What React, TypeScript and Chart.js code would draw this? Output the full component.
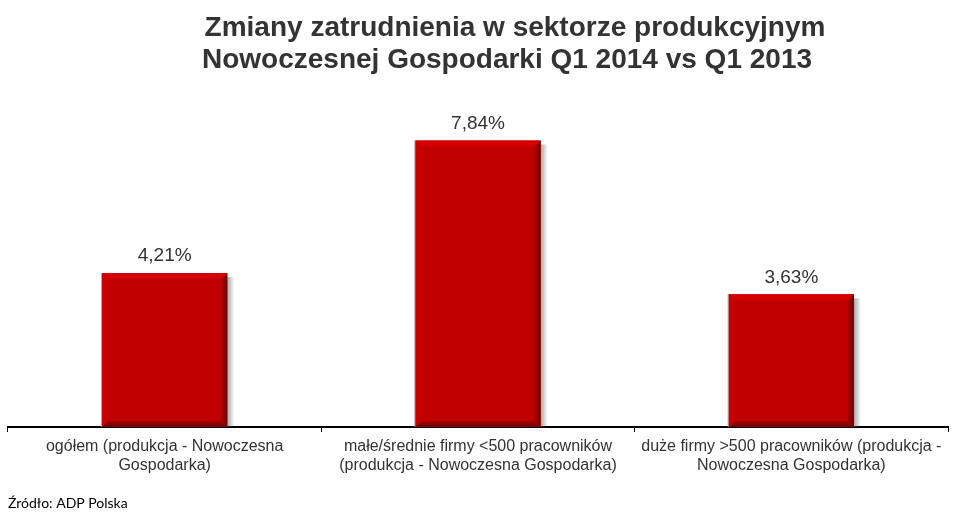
import React, { useEffect, useRef } from "react";
import { Chart, registerables } from "chart.js";

Chart.register(...registerables);

const titleLines = [
  "Zmiany zatrudnienia w sektorze produkcyjnym",
  "Nowoczesnej Gospodarki Q1 2014 vs Q1 2013",
];
const categories: string[][] = [
  ["ogółem (produkcja - Nowoczesna", "Gospodarka)"],
  ["małe/średnie firmy <500 pracowników", "(produkcja - Nowoczesna Gospodarka)"],
  ["duże firmy >500 pracowników (produkcja -", "Nowoczesna Gospodarka)"],
];
const values = [4.21, 7.84, 3.63];
const valueLabels = ["4,21%", "7,84%", "3,63%"];
const sourceText = "Źródło: ADP Polska";

const FONT = "'Liberation Sans', Arial, sans-serif";

const decorPlugin = {
  id: "decor",
  beforeDatasetsDraw(chart: any) {
    const ctx = chart.ctx;
    const meta = chart.getDatasetMeta(0);
    ctx.save();
    meta.data.forEach((bar: any) => {
      const right = bar.x + bar.width / 2;
      const top = bar.y;
      const bottom = bar.base;
      const g = ctx.createLinearGradient(right, 0, right + 7, 0);
      g.addColorStop(0, "rgba(80,80,80,0.5)");
      g.addColorStop(1, "rgba(80,80,80,0)");
      ctx.fillStyle = g;
      ctx.fillRect(right, top + 4, 7, bottom - top - 4);
    });
    ctx.restore();
  },
  afterDatasetsDraw(chart: any) {
    const ctx = chart.ctx;
    const meta = chart.getDatasetMeta(0);
    ctx.save();
    meta.data.forEach((bar: any, i: number) => {
      const l = bar.x - bar.width / 2;
      const r = bar.x + bar.width / 2;
      const t = bar.y;
      const b = bar.base;
      const d = 6;
      ctx.fillStyle = "#d40000";
      ctx.beginPath();
      ctx.moveTo(l, t); ctx.lineTo(r, t); ctx.lineTo(r - d, t + d); ctx.lineTo(l + d, t + d); ctx.closePath();
      ctx.fill();
      ctx.fillStyle = "#c80000";
      ctx.beginPath();
      ctx.moveTo(l, t); ctx.lineTo(l + d, t + d); ctx.lineTo(l + d, b - d); ctx.lineTo(l, b); ctx.closePath();
      ctx.fill();
      const gr = ctx.createLinearGradient(r - d, 0, r, 0);
      gr.addColorStop(0, "#a80000");
      gr.addColorStop(1, "#700000");
      ctx.fillStyle = gr;
      ctx.beginPath();
      ctx.moveTo(r, t); ctx.lineTo(r, b); ctx.lineTo(r - d, b - d); ctx.lineTo(r - d, t + d); ctx.closePath();
      ctx.fill();
      const gb = ctx.createLinearGradient(0, b - d, 0, b);
      gb.addColorStop(0, "#a80000");
      gb.addColorStop(1, "#700000");
      ctx.fillStyle = gb;
      ctx.beginPath();
      ctx.moveTo(l, b); ctx.lineTo(r, b); ctx.lineTo(r - d, b - d); ctx.lineTo(l + d, b - d); ctx.closePath();
      ctx.fill();
      ctx.fillStyle = "rgba(150,150,150,0.8)";
      ctx.fillRect(l - 1, t, 1, b - t);
      ctx.fillStyle = "#333333";
      ctx.font = `19px ${FONT}`;
      ctx.textAlign = "center";
      ctx.textBaseline = "middle";
      ctx.fillText(valueLabels[i], bar.x, t - 17);
    });
    ctx.restore();
  },
  afterDraw(chart: any) {
    const ctx = chart.ctx;
    ctx.save();
    ctx.fillStyle = "#333333";
    ctx.font = `bold 28px ${FONT}`;
    ctx.textAlign = "center";
    ctx.textBaseline = "middle";
    ctx.fillText(titleLines[0], 515, 28);
    ctx.fillText(titleLines[1], 507, 60);
    ctx.fillStyle = "#000000";
    ctx.font = `14px Lato, 'Open Sans', sans-serif`;
    ctx.textAlign = "left";
    ctx.fillText(sourceText, 8, 503);
    ctx.restore();
  },
};

export default function App() {
  const ref = useRef<HTMLCanvasElement | null>(null);
  useEffect(() => {
    if (!ref.current) return;
    const chart = new Chart(ref.current, {
      type: "bar",
      data: {
        labels: categories,
        datasets: [
          {
            data: values,
            backgroundColor: "#c00000",
            borderWidth: 0,
            barPercentage: 0.4,
            categoryPercentage: 1,
          },
        ],
      },
      options: {
        animation: false,
        responsive: true,
        maintainAspectRatio: false,
        layout: { padding: { left: 8, right: 10, top: 98, bottom: 35 } },
        plugins: {
          legend: { display: false },
          title: { display: false },
          tooltip: { enabled: false },
        },
        scales: {
          x: {
            afterFit: (scale: any) => {
              scale.height = 60;
            },
            grid: {
              display: true,
              drawOnChartArea: false,
              drawTicks: true,
              tickLength: 5,
              color: "#000000",
              offset: true,
            },
            border: { display: true, color: "#000000", width: 2 },
            ticks: {
              color: "#333333",
              font: { family: FONT, size: 16, lineHeight: 1.2 },
              padding: 5,
              maxRotation: 0,
              autoSkip: false,
            },
          },
          y: {
            display: false,
            min: 0,
            max: 9,
          },
        },
      },
      plugins: [decorPlugin],
    });
    return () => chart.destroy();
  }, []);
  return (
    <div style={{ position: "fixed", left: 0, top: 0, width: 958, height: 522, background: "#fff" }}>
      <canvas ref={ref} />
    </div>
  );
}
